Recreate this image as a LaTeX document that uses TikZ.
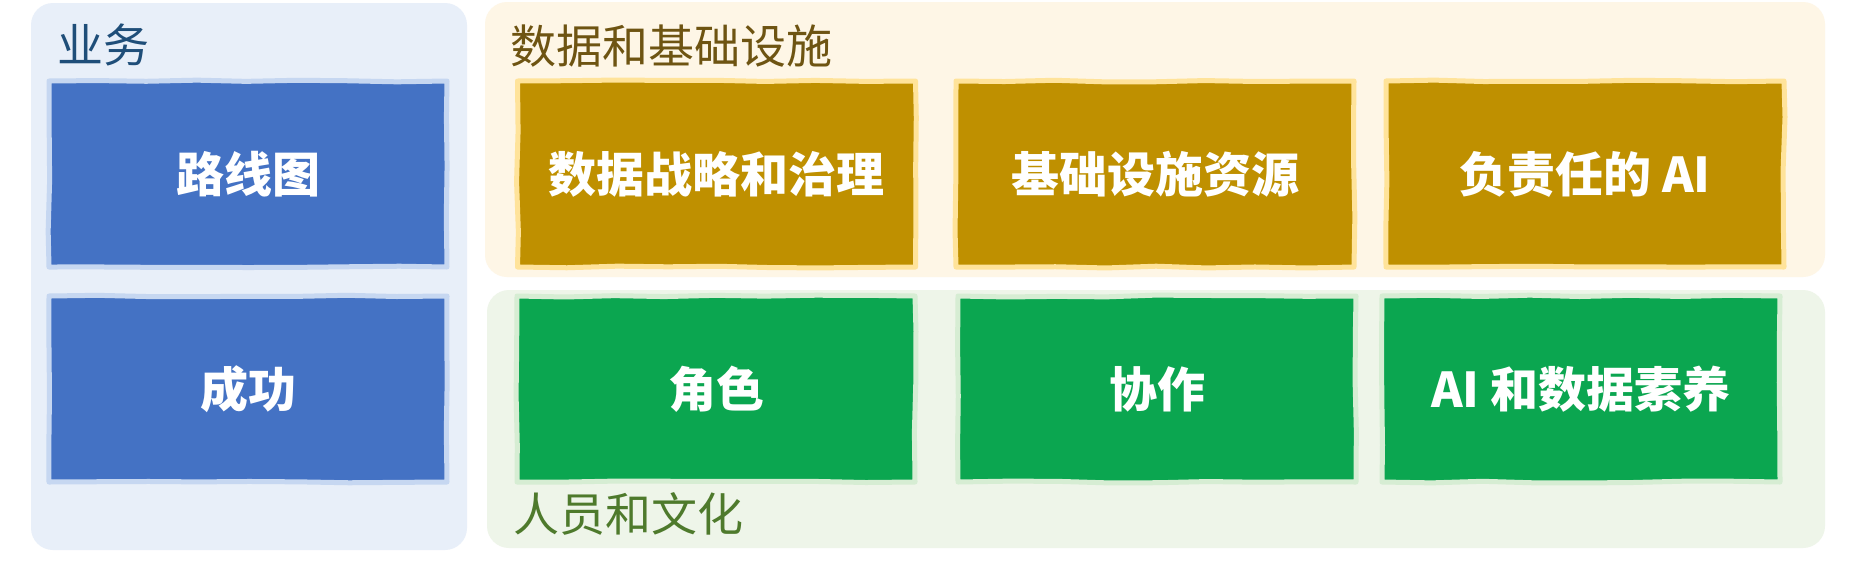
\documentclass[tikz,border=0pt]{standalone}
\usepackage{fontspec}
\newfontfamily\cjk{Noto Sans CJK SC}
\usetikzlibrary{decorations.pathmorphing}
\definecolor{bizbg}{HTML}{E8EFF9}
\definecolor{databg}{HTML}{FEF6E6}
\definecolor{peoplebg}{HTML}{EEF5E9}
\definecolor{bizbox}{HTML}{4472C4}
\definecolor{bizedge}{HTML}{C6D7F1}
\definecolor{databox}{HTML}{BF9000}
\definecolor{dataedge}{HTML}{FFE39A}
\definecolor{peoplebox}{HTML}{0BA650}
\definecolor{peopleedge}{HTML}{D6EDD3}
\definecolor{biztxt}{HTML}{1F4E79}
\definecolor{datatxt}{HTML}{6E5412}
\definecolor{peopletxt}{HTML}{4E7A2C}
\tikzset{
  panel/.style={rectangle, rounded corners=22pt, inner sep=0pt, draw=none},
  tile/.style={rectangle, inner sep=0pt, line width=5pt, line join=round,
    minimum width=398pt, minimum height=186pt,
    text=white, font=\cjk\bfseries\fontsize{48pt}{48pt}\selectfont,
    decorate, decoration={random steps, segment length=50pt, amplitude=1pt}},
  biztile/.style={tile, fill=bizbox, draw=bizedge},
  datatile/.style={tile, fill=databox, draw=dataedge},
  peopletile/.style={tile, fill=peoplebox, draw=peopleedge},
  sectlabel/.style={anchor=west, inner sep=0pt, font=\cjk\fontsize{46pt}{46pt}\selectfont}
}
\begin{document}
\begin{tikzpicture}[x=1pt, y=-1pt]
\pgfmathsetseed{11}
\useasboundingbox[fill=white] (0,0) rectangle (1854,560);
% panels
\node[panel, fill=bizbg, minimum width=436pt, minimum height=547pt] (biz) at (249,276.5) {};
\node[panel, fill=databg, minimum width=1340pt, minimum height=275pt] (data) at (1155,139.5) {};
\node[panel, fill=peoplebg, minimum width=1338pt, minimum height=258pt] (people) at (1156,419) {};
% section labels
\node[sectlabel, text=biztxt] (bizlabel) at (57,45) {业务};
\node[sectlabel, text=datatxt] (datalabel) at (510,46) {数据和基础设施};
\node[sectlabel, text=peopletxt] (peoplelabel) at (513,514) {人员和文化};
% business tiles
\node[biztile] (roadmap) at (248,174) {路线图};
\node[biztile] (success) at (248,389) {成功};
% data tiles
\node[datatile] (strategy) at (716.5,174) {数据战略和治理};
\node[datatile] (infra) at (1155,174) {基础设施资源};
\node[datatile] (rai) at (1585,174) {负责任的 AI};
% people tiles
\node[peopletile] (roles) at (716,389) {角色};
\node[peopletile] (collab) at (1157,389) {协作};
\node[peopletile] (literacy) at (1581,389) {AI 和数据素养};
\end{tikzpicture}
\end{document}
